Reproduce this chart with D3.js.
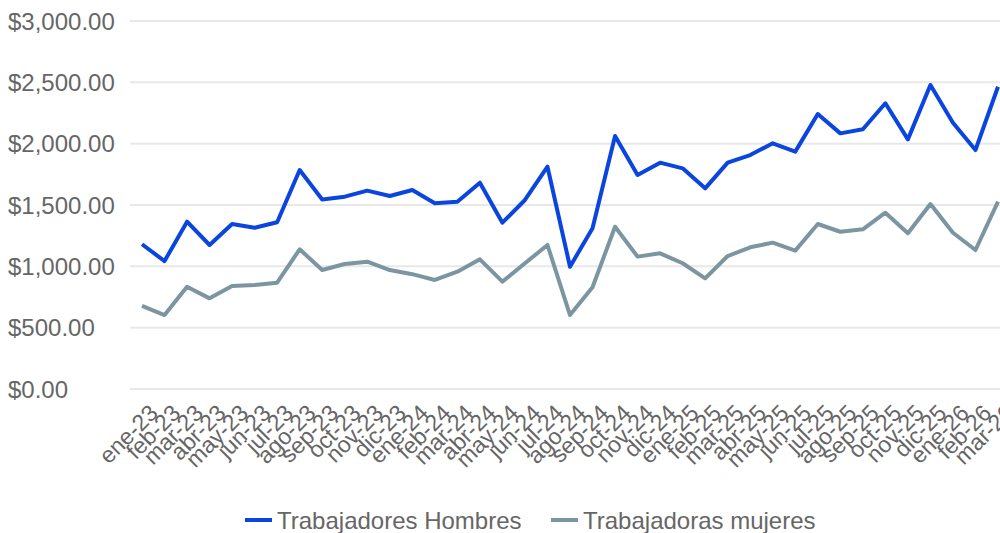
<!DOCTYPE html>
<html>
<head>
<meta charset="utf-8">
<script src="https://cdn.jsdelivr.net/npm/d3@7"></script>
<style>
  body { margin: 0; background: #fff; }
  #viz { width: 1000px; height: 533px; overflow: hidden; }
  text { font-family: 'Liberation Sans', Arial, sans-serif; }
</style>
</head>
<body>
<div id="viz"></div>
<script>
const months = ['ene-23','feb-23','mar-23','abr-23','may-23','jun-23','jul-23','ago-23','sep-23','oct-23','nov-23','dic-23',
  'ene-24','feb-24','mar-24','abr-24','may-24','jun-24','jul-24','ago-24','sep-24','oct-24','nov-24','dic-24',
  'ene-25','feb-25','mar-25','abr-25','may-25','jun-25','jul-25','ago-25','sep-25','oct-25','nov-25','dic-25',
  'ene-26','feb-26','mar-26'];

const hombres = [1180, 1043, 1364, 1174, 1345, 1315, 1359, 1785, 1545, 1568, 1617, 1573,
  1622, 1514, 1527, 1682, 1356, 1541, 1812, 997, 1310, 2062, 1745, 1845,
  1799, 1636, 1845, 1907, 2003, 1935, 2242, 2084, 2117, 2329, 2035, 2478,
  2171, 1948, 2464];

const mujeres = [677, 603, 834, 739, 840, 848, 867, 1139, 970, 1019, 1038, 970,
  936, 889, 956, 1057, 875, 1025, 1174, 603, 829, 1323, 1079, 1106,
  1025, 902, 1084, 1155, 1193, 1128, 1345, 1282, 1302, 1437, 1269, 1508,
  1274, 1133, 1527];

const yTicks = [0, 500, 1000, 1500, 2000, 2500, 3000];

const seriesNames = ['Trabajadores Hombres', 'Trabajadoras mujeres'];
const colors = ['#0b45e0', '#7c96a1'];

const width = 1000, height = 533;
const gridLeft = 130;

const svg = d3.select('#viz')
  .append('svg')
  .attr('width', width)
  .attr('height', height);

let x = d3.scalePoint()
  .domain(months)
  .range([142, 998]);

let y = d3.scaleLinear()
  .domain([0, 3000])
  .range([389, 21]);

const fmt = d3.format('$,.2f');

// gridlines
svg.append('g')
  .selectAll('line')
  .data(yTicks)
  .join('line')
  .attr('x1', gridLeft)
  .attr('x2', width)
  .attr('y1', d => y(d))
  .attr('y2', d => y(d))
  .style('stroke', '#e8e8e8')
  .style('stroke-width', 2);

// y labels
svg.append('g')
  .selectAll('text')
  .data(yTicks)
  .join('text')
  .attr('x', 8)
  .attr('y', d => y(d))
  .attr('dy', '0.36em')
  .style('font-size', '24px')
  .style('fill', '#666')
  .text(d => fmt(d));

// x labels (they overlap in the original too)
svg.append('g')
  .selectAll('text')
  .data(months)
  .join('text')
  .attr('transform', d => `translate(${x(d) + 6},${403}) rotate(-45)`)
  .attr('text-anchor', 'end')
  .attr('dy', '0.7em')
  .style('font-size', '23px')
  .style('fill', '#666')
  .text(d => d);

const line = d3.line()
  .x((d, i) => x(months[i]))
  .y(d => y(d));

[hombres, mujeres].forEach((s, k) => {
  svg.append('path')
    .datum(s)
    .attr('d', line)
    .style('fill', 'none')
    .style('stroke', colors[k])
    .style('stroke-width', 4)
    .style('stroke-linejoin', 'round');
});

// legend
const legend = svg.append('g');
const legendX = [245, 551];
seriesNames.forEach((name, k) => {
  legend.append('line')
    .attr('x1', legendX[k])
    .attr('x2', legendX[k] + 27)
    .attr('y1', 520)
    .attr('y2', 520)
    .style('stroke', colors[k])
    .style('stroke-width', 4);
  legend.append('text')
    .attr('x', legendX[k] + 32)
    .attr('y', 520)
    .attr('dy', '0.36em')
    .style('font-size', '24px')
    .style('fill', '#666')
    .text(name);
});
</script>
</body>
</html>
